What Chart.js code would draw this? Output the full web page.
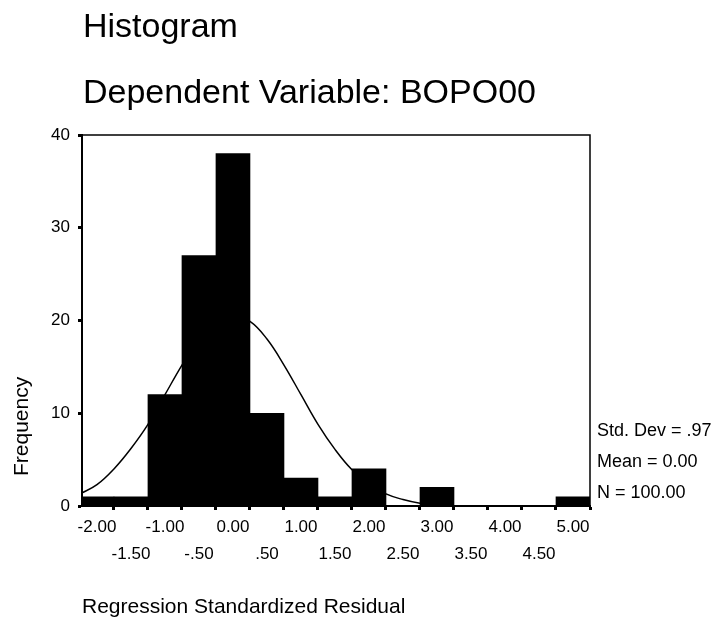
<!DOCTYPE html>
<html>
<head>
<meta charset="utf-8">
<script src="https://cdn.jsdelivr.net/npm/chart.js@4.4.0/dist/chart.umd.min.js"></script>
<style>
  body { margin: 0; background: #fff; }
</style>
</head>
<body>
<canvas id="myChart" width="720" height="630"></canvas>
<script>

// histogram bins (centre of each 0.5 wide bin) and counts
const binCenters = [-2.0, -1.5, -1.0, -0.5, 0.0, 0.5, 1.0, 1.5, 2.0, 2.5, 3.0, 3.5, 4.0, 4.5, 5.0];
const frequencies = [1, 1, 12, 27, 38, 10, 3, 1, 4, 0, 2, 0, 0, 0, 1];

// normal curve
const curveX = [-2.25, -2.0, -1.75, -1.5, -1.25, -1.0, -0.75, -0.5, -0.25, 0.0, 0.25, 0.5, 0.75, 1.0, 1.25, 1.5, 1.75, 2.0, 2.25, 2.5, 2.75, 3.0];
const curveY = [1.3, 2.3, 4.0, 6.2, 8.8, 12.0, 15.2, 18.0, 19.9, 20.5, 19.9, 18.0, 15.2, 12.0, 8.8, 6.1, 3.9, 2.4, 1.3, 0.7, 0.3, 0.1];

const xTickValues = [-2.0, -1.5, -1.0, -0.5, 0.0, 0.5, 1.0, 1.5, 2.0, 2.5, 3.0, 3.5, 4.0, 4.5, 5.0];
const xTickLabels = ['-2.00', '-1.50', '-1.00', '-.50', '0.00', '.50', '1.00', '1.50', '2.00', '2.50', '3.00', '3.50', '4.00', '4.50', '5.00'];
const yTickValues = [0, 10, 20, 30, 40];

const titleLines = ['Histogram', 'Dependent Variable: BOPO00'];
const statLines = ['Std. Dev = .97', 'Mean = 0.00', 'N = 100.00'];
const xTitle = 'Regression Standardized Residual';
const yTitle = 'Frequency';

const FONT = '"Liberation Sans", Arial, sans-serif';
Chart.defaults.font.family = FONT;
Chart.defaults.color = '#000';

// top/right frame plus the loose texts
const extras = {
  id: 'extras',
  afterDatasetsDraw(chart) {
    const { ctx, chartArea: a } = chart;
    ctx.save();
    ctx.strokeStyle = '#000';
    ctx.lineWidth = 1.5;
    ctx.beginPath();
    ctx.moveTo(a.left, a.top);
    ctx.lineTo(a.right, a.top);
    ctx.lineTo(a.right, a.bottom);
    ctx.stroke();
    ctx.restore();
  },
  afterDraw(chart) {
    const { ctx, chartArea: a } = chart;
    ctx.save();
    ctx.fillStyle = '#000';
    ctx.textAlign = 'left';
    ctx.textBaseline = 'alphabetic';
    ctx.font = '34px ' + FONT;
    ctx.fillText(titleLines[0], 83, 37);
    ctx.fillText(titleLines[1], 83, 103);

    ctx.font = '18px ' + FONT;
    statLines.forEach((t, i) => ctx.fillText(t, a.right + 7, 436 + i * 31));

    ctx.font = '21px ' + FONT;
    ctx.translate(28, 476);
    ctx.rotate(-Math.PI / 2);
    ctx.fillText(yTitle, 0, 0);
    ctx.restore();
  }
};

const ctx = document.getElementById('myChart');

new Chart(ctx, {
  type: 'bar',
  data: {
    datasets: [
      {
        type: 'line',
        data: curveX.map((x, i) => ({ x: x, y: curveY[i] })),
        borderColor: '#000',
        borderWidth: 1.5,
        pointRadius: 0,
        tension: 0.4,
        fill: false,
        order: 0
      },
      {
        type: 'bar',
        data: binCenters.map((x, i) => ({ x: x, y: frequencies[i] })),
        backgroundColor: '#000',
        borderWidth: 0,
        barPercentage: 1,
        categoryPercentage: 1,
        order: 1
      }
    ]
  },
  options: {
    responsive: false,
    animation: false,
    layout: { padding: { top: 135, right: 130, left: 0, bottom: 0 } },
    plugins: {
      legend: { display: false },
      tooltip: { enabled: false }
    },
    scales: {
      x: {
        type: 'linear',
        min: -2.22,
        max: 5.25,
        offset: false,
        afterBuildTicks: s => { s.ticks = xTickValues.map(v => ({ value: v })); },
        afterFit: s => { s.height = 124; },
        ticks: {
          autoSkip: false,
          maxRotation: 0,
          padding: 4,
          font: { size: 17, lineHeight: 1.6 },
          callback: (v, i) => i % 2 === 0 ? [xTickLabels[i], ''] : ['', xTickLabels[i]]
        },
        grid: { drawOnChartArea: false, drawTicks: true, tickLength: 4, tickWidth: 3, color: '#000' },
        border: { display: true, color: '#000', width: 2 },
        title: {
          display: true,
          text: xTitle,
          align: 'start',
          font: { size: 21 },
          padding: { top: 0, bottom: 10 }
        }
      },
      y: {
        min: 0,
        max: 40,
        afterBuildTicks: s => { s.ticks = yTickValues.map(v => ({ value: v })); },
        afterFit: s => { s.width = 82; },
        ticks: { padding: 8, font: { size: 17 } },
        grid: { drawOnChartArea: false, drawTicks: true, tickLength: 4, tickWidth: 3, color: '#000' },
        border: { display: true, color: '#000', width: 2 }
      }
    }
  },
  plugins: [extras]
});
</script>
</body>
</html>
